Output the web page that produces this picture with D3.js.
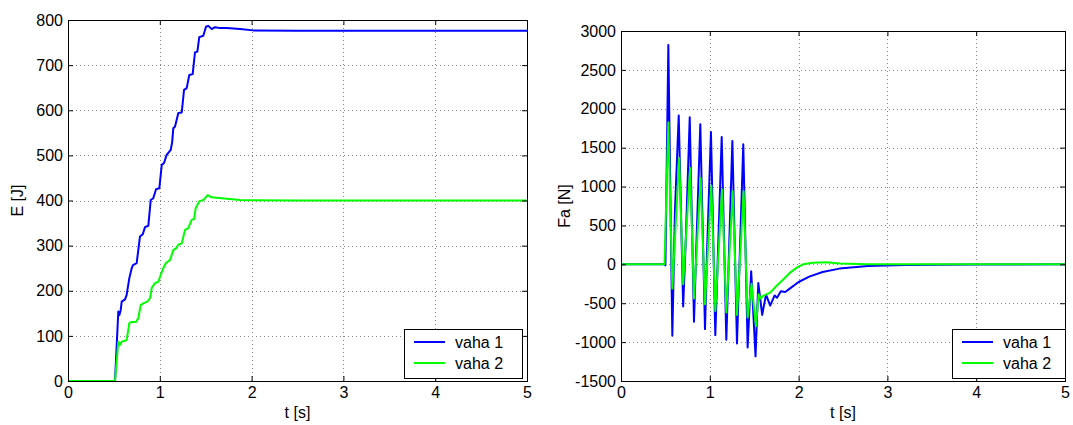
<!DOCTYPE html>
<html>
<head>
<meta charset="utf-8">
<script src="https://cdn.jsdelivr.net/npm/d3@7"></script>
<style>
  html, body { margin: 0; padding: 0; background: #fff; }
  svg { display: block; }
  text { font-family: "Liberation Sans", Arial, Helvetica, sans-serif; fill: #000; }
</style>
</head>
<body>
<svg id="fig" width="1073" height="425"></svg>
<script>
// Energy E [J] of each weight over time t [s]
const energyTime1 = [0, 0.512, 0.548, 0.559, 0.574, 0.585, 0.621, 0.639, 0.668, 0.694, 0.708, 0.748, 0.784, 0.814, 0.839, 0.875, 0.901, 0.929, 0.959, 0.995, 1.021, 1.046, 1.075, 1.119, 1.135, 1.147, 1.166, 1.202, 1.239, 1.264, 1.293, 1.321, 1.358, 1.383, 1.409, 1.430, 1.474, 1.503, 1.528, 1.565, 1.601, 1.656, 1.729, 1.874, 2.019, 2.5, 5];
const energyVaha1 = [0, 0, 154, 146, 157, 176, 181, 191, 228, 250, 257, 261, 320, 325, 341, 344, 401, 405, 425, 427, 479, 483, 501, 512, 530, 560, 564, 594, 595, 645, 649, 678, 680, 728, 730, 762, 765, 785, 787, 780, 784, 782, 782, 780, 777, 776, 776];

const energyTime2 = [0, 0.512, 0.548, 0.566, 0.585, 0.621, 0.639, 0.668, 0.694, 0.741, 0.766, 0.792, 0.820, 0.864, 0.893, 0.912, 0.948, 0.984, 1.010, 1.038, 1.068, 1.111, 1.147, 1.176, 1.202, 1.239, 1.275, 1.310, 1.347, 1.373, 1.391, 1.430, 1.474, 1.522, 1.565, 1.620, 1.729, 1.874, 2.019, 2.5, 5];
const energyVaha2 = [0, 0, 87, 80, 87, 89, 91, 128, 131, 131, 139, 168, 172, 176, 183, 206, 217, 220, 235, 250, 262, 268, 290, 294, 302, 305, 335, 339, 357, 359, 383, 398, 401, 412, 407, 406, 404, 401, 400.5, 400, 400];

// Force Fa [N] of each weight over time t [s]
const forceTime1 = [0, 0.49, 0.50, 0.533, 0.578, 0.608, 0.65, 0.70, 0.729, 0.774, 0.822, 0.848, 0.893, 0.946, 0.968, 1.013, 1.062, 1.134, 1.186, 1.254, 1.306, 1.377, 1.426, 1.466, 1.515, 1.546, 1.59, 1.633, 1.68, 1.73, 1.757, 1.80, 1.85, 1.90, 2.0, 2.12, 2.27, 2.46, 2.78, 3.2, 4, 5];
const forceVaha1 = [0, 0, -13, 2820, -919, 705, 1915, -543, 299, 1890, -739, 214, 1800, -833, 128, 1700, -910, 1637, -970, 1585, -1017, 1543, -1068, -90, -1183, -240, -650, -390, -530, -400, -430, -345, -355, -312, -227, -158, -99, -55, -22, -8, -2, 0];

const forceTime2 = [0, 0.49, 0.533, 0.578, 0.655, 0.70, 0.778, 0.822, 0.897, 0.946, 1.017, 1.062, 1.138, 1.186, 1.258, 1.306, 1.381, 1.426, 1.47, 1.52, 1.55, 1.575, 1.60, 1.68, 1.75, 1.83, 1.905, 1.98, 2.05, 2.16, 2.31, 2.46, 2.78, 5];
const forceVaha2 = [0, 0, 1825, -312, 1368, -256, 1239, -440, 1111, -513, 1013, -600, 962, -620, 940, -650, 940, -684, -250, -795, -385, -440, -406, -363, -278, -192, -106, -42, 0, 21, 28, 12, 0, 0];

// Tick labels
const timeTicks = [0, 1, 2, 3, 4, 5];
const energyTicks = [0, 100, 200, 300, 400, 500, 600, 700, 800];
const forceTicks = [-1500, -1000, -500, 0, 500, 1000, 1500, 2000, 2500, 3000];

const seriesNames = ["vaha 1", "vaha 2"];
const seriesColors = ["#0000ff", "#00ff00"];

const FONT = "16px";
const svg = d3.select("#fig");
svg.append("rect").attr("width", 1073).attr("height", 425).attr("fill", "#fff");

function zip(ts, vs) { return ts.map((t, i) => [t, vs[i]]); }
const plain = d => String(d);

function drawPanel(opt) {
  const { left, right, top, bottom, yDomain, yTicks, yLabel, yLabelX, series, legend } = opt;
  const x = d3.scaleLinear().domain([0, 5]).range([left, right]);
  const y = d3.scaleLinear().domain(yDomain).range([bottom, top]);
  const g = svg.append("g");

  // dotted grid
  const grid = g.append("g").attr("stroke", "#8a8a8a").attr("stroke-width", 1)
    .attr("stroke-dasharray", "1,3").attr("fill", "none");
  timeTicks.slice(1, -1).forEach(t => {
    grid.append("line").attr("x1", Math.round(x(t)) + 0.5).attr("x2", Math.round(x(t)) + 0.5)
      .attr("y1", top).attr("y2", bottom);
  });
  yTicks.slice(1, -1).forEach(v => {
    grid.append("line").attr("y1", Math.round(y(v)) + 0.5).attr("y2", Math.round(y(v)) + 0.5)
      .attr("x1", left).attr("x2", right);
  });

  // data lines
  const clipId = "clip" + left;
  svg.append("clipPath").attr("id", clipId).append("rect")
    .attr("x", left).attr("y", top - 2).attr("width", right - left).attr("height", bottom - top + 2);
  const line = d3.line().x(d => x(d[0])).y(d => y(d[1]));
  const lines = g.append("g").attr("clip-path", `url(#${clipId})`);
  series.forEach((s, i) => {
    lines.append("path").datum(s).attr("d", line).attr("fill", "none")
      .attr("stroke", seriesColors[i]).attr("stroke-width", 2).attr("stroke-linejoin", "round");
  });

  // axes with inward ticks on all four sides
  const tickLen = 5;
  const axB = d3.axisBottom(x).tickValues(timeTicks).tickFormat(plain).tickSizeInner(-tickLen).tickSizeOuter(0).tickPadding(6);
  const axT = d3.axisTop(x).tickValues(timeTicks).tickSizeInner(-tickLen).tickSizeOuter(0).tickFormat("");
  const axL = d3.axisLeft(y).tickValues(yTicks).tickFormat(plain).tickSizeInner(-tickLen).tickSizeOuter(0).tickPadding(5);
  const axR = d3.axisRight(y).tickValues(yTicks).tickSizeInner(-tickLen).tickSizeOuter(0).tickFormat("");
  const axes = [
    g.append("g").attr("transform", `translate(0,${bottom})`).call(axB),
    g.append("g").attr("transform", `translate(0,${top})`).call(axT),
    g.append("g").attr("transform", `translate(${left},0)`).call(axL),
    g.append("g").attr("transform", `translate(${right},0)`).call(axR)
  ];
  axes.forEach(a => {
    a.select(".domain").remove();
    a.selectAll("line").attr("stroke", "#000");
    a.selectAll("text").style("font-size", FONT).attr("fill", "#000")
      .style("font-family", "'Liberation Sans', Arial, sans-serif");
  });

  // frame
  g.append("rect").attr("x", left + 0.5).attr("y", top + 0.5)
    .attr("width", right - left).attr("height", bottom - top)
    .attr("fill", "none").attr("stroke", "#000").attr("stroke-width", 1);

  // axis labels
  g.append("text").attr("x", (left + right) / 2).attr("y", 418)
    .attr("text-anchor", "middle").style("font-size", FONT).text("t [s]");
  g.append("text").attr("transform", `translate(${yLabelX},${(top + bottom) / 2}) rotate(-90)`)
    .attr("text-anchor", "middle").style("font-size", FONT).text(yLabel);

  // legend
  const lg = g.append("g");
  lg.append("rect").attr("x", legend.x + 0.5).attr("y", legend.y + 0.5)
    .attr("width", legend.w).attr("height", legend.h)
    .attr("fill", "#fff").attr("stroke", "#000").attr("stroke-width", 1);
  seriesNames.forEach((name, i) => {
    const cy = legend.y + 13 + i * 21;
    lg.append("line").attr("x1", legend.x + 10).attr("x2", legend.x + 41)
      .attr("y1", cy).attr("y2", cy).attr("stroke", seriesColors[i]).attr("stroke-width", 2);
    lg.append("text").attr("x", legend.x + 51).attr("y", cy + 5.5)
      .style("font-size", FONT).text(name);
  });
}

drawPanel({
  left: 68, right: 527, top: 20, bottom: 381,
  yDomain: [0, 800], yTicks: energyTicks, yLabel: "E [J]", yLabelX: 23,
  series: [zip(energyTime1, energyVaha1), zip(energyTime2, energyVaha2)],
  legend: { x: 404, y: 329, w: 118, h: 49 }
});

drawPanel({
  left: 621, right: 1065, top: 31, bottom: 381,
  yDomain: [-1500, 3000], yTicks: forceTicks, yLabel: "Fa [N]", yLabelX: 570,
  series: [zip(forceTime1, forceVaha1), zip(forceTime2, forceVaha2)],
  legend: { x: 952, y: 329, w: 113, h: 49 }
});
</script>
</body>
</html>
